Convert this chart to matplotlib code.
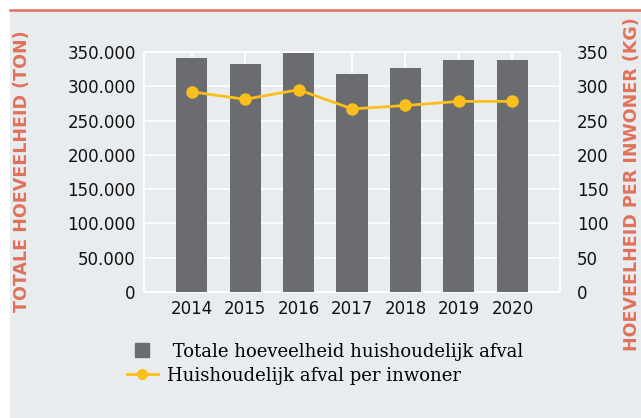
import matplotlib
matplotlib.use("Agg")
import matplotlib.pyplot as plt
from matplotlib.patches import Rectangle
from matplotlib.lines import Line2D
import numpy as np

years = ["2014", "2015", "2016", "2017", "2018", "2019", "2020"]
totaal_ton = [341000, 333000, 349000, 318000, 327000, 338000, 338000]
per_inwoner_kg = [292, 281, 295, 267, 272, 278, 278]
left_ticks = [0, 50000, 100000, 150000, 200000, 250000, 300000, 350000]
left_ticklabels = ["0", "50.000", "100.000", "150.000", "200.000", "250.000", "300.000", "350.000"]
right_ticks = [0, 50, 100, 150, 200, 250, 300, 350]

BG = "#e9ecee"
ORANGE = "#e0715a"
BAR = "#6b6c70"
YEL = "#fbbf1c"

fig = plt.figure(figsize=(6.41, 4.18), dpi=100, facecolor="white")
fig.patches.append(Rectangle((10/641, 0), 1, (418-10)/418, transform=fig.transFigure,
                             facecolor=BG, edgecolor="none", zorder=-10))
fig.lines.append(Line2D([10/641, 1], [1-9.5/418, 1-9.5/418], transform=fig.transFigure,
                        color=ORANGE, lw=1.8))

ax = fig.add_axes([144/641, 1-292/418, (560-144)/641, (292-52)/418])
ax.set_facecolor(BG)
x = np.arange(len(years))
ax.bar(x, totaal_ton, width=0.58, color=BAR, zorder=3)
ax.set_xlim(-0.89, len(years)-1+0.89)
ax.set_ylim(0, 350000)
ax.set_yticks(left_ticks)
ax.set_yticklabels(left_ticklabels)
ax.set_xticks(x)
ax.set_xticklabels(years)
ax.grid(True, color="white", lw=1.2, zorder=0)
ax.set_axisbelow(True)
for s in ax.spines.values():
    s.set_color("white")
    s.set_linewidth(1.2)
ax.tick_params(length=0, labelsize=12, colors="#111111")
ax.tick_params(axis="y", pad=6)
ax.tick_params(axis="x", pad=6)

ax2 = ax.twinx()
ax2.plot(x, per_inwoner_kg, color=YEL, lw=2, marker="o", ms=8, zorder=5)
ax2.set_ylim(0, 350)
ax2.set_yticks(right_ticks)
ax2.tick_params(length=0, labelsize=12, colors="#111111", pad=12)
for s in ax2.spines.values():
    s.set_visible(False)
ax.set_zorder(1)
ax2.set_zorder(2)
ax2.patch.set_visible(False)

fig.text(22/641, 1-171/418, "TOTALE HOEVEELHEID (TON)", rotation=90, ha="center", va="center",
         color=ORANGE, fontsize=12.6, fontweight="bold")
fig.text(632/641, 1-184/418, "HOEVEELHEID PER INWONER (KG)", rotation=90, ha="center", va="center",
         color=ORANGE, fontsize=12.6, fontweight="bold")

handles = [Line2D([], [], color=BAR, marker="s", ms=10, linestyle="none"),
           Line2D([], [], color=YEL, lw=2, marker="o", ms=7)]
labels = [" Totale hoeveelheid huishoudelijk afval", "Huishoudelijk afval per inwoner"]
leg = fig.legend(handles, labels, loc="upper left", bbox_to_anchor=(127/641, 1-343/418),
                 frameon=False, prop={"family": "DejaVu Serif", "size": 13},
                 handlelength=1.7, handleheight=1.0, handletextpad=0.5, labelspacing=0.33,
                 borderaxespad=0, borderpad=0)

fig.savefig("out.png", dpi=100, facecolor=fig.get_facecolor())
